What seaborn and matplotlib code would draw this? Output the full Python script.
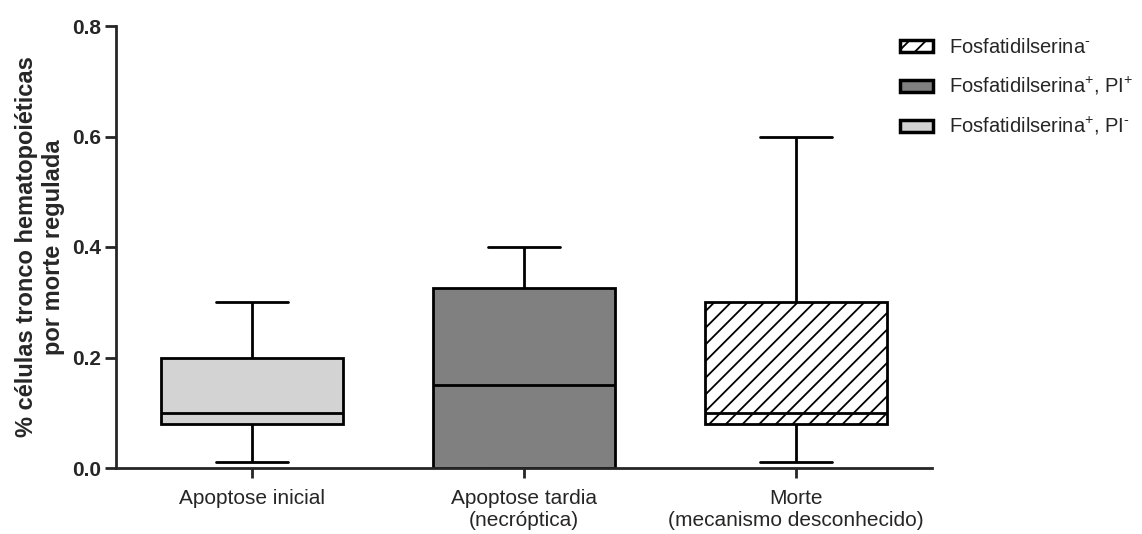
import numpy as np
import pandas as pd
import matplotlib
matplotlib.use("Agg")
import matplotlib.pyplot as plt
from matplotlib.patches import Patch
import seaborn as sns

# Five-number summaries (min, Q1, median, Q3, max) per death mechanism
categories = ["Apoptose inicial", "Apoptose tardia\n(necróptica)",
              "Morte\n(mecanismo desconhecido)"]
apoptose_inicial = [0.01, 0.08, 0.10, 0.20, 0.30]
apoptose_tardia = [0.00, 0.00, 0.15, 0.325, 0.40]
morte_desconhecida = [0.01, 0.08, 0.10, 0.30, 0.60]

legend_labels = [r"Fosfatidilserina$^{\text{-}}$",
                 r"Fosfatidilserina$^{\mathregular{+}}$, PI$^{\mathregular{+}}$",
                 r"Fosfatidilserina$^{\mathregular{+}}$, PI$^{\text{-}}$"]
yticks = [0.0, 0.2, 0.4, 0.6, 0.8]

light_gray = "#d3d3d3"
dark_gray = "#808080"

sns.set_style("ticks")
plt.rcParams["font.family"] = ["Liberation Sans", "DejaVu Sans"]
plt.rcParams["mathtext.fontset"] = "custom"
plt.rcParams["mathtext.rm"] = "Liberation Sans"
plt.rcParams["hatch.linewidth"] = 1.3
plt.rcParams["hatch.color"] = "black"

df = pd.DataFrame({
    "grupo": np.repeat(categories, 5),
    "valor": apoptose_inicial + apoptose_tardia + morte_desconhecida,
})

fig = plt.figure(figsize=(11.42, 5.34), dpi=100)
ax = fig.add_axes([116 / 1142, 66 / 534, (932 - 116) / 1142, (468 - 26) / 534])

palette = {categories[0]: light_gray, categories[1]: dark_gray,
           categories[2]: "white"}
lw = 2.0
sns.boxplot(data=df, x="grupo", y="valor", hue="grupo", order=categories,
            palette=palette, whis=(0, 100), width=0.667, legend=False,
            linecolor="black", linewidth=lw, capwidths=0.267, ax=ax,
            medianprops=dict(color="black", linewidth=lw),
            whiskerprops=dict(color="black", linewidth=lw),
            capprops=dict(color="black", linewidth=lw),
            boxprops=dict(edgecolor="black", linewidth=lw))

# Hatch the third box
box_patches = [p for p in ax.patches]
box_patches[2].set_hatch("//")
box_patches[2].set_edgecolor("black")

ax.set_xlim(-0.5, 2.5)
ax.set_ylim(0, 0.8)
ax.set_yticks(yticks)
ax.set_yticklabels([f"{t:.1f}" for t in yticks], fontsize=15, fontweight="bold")
ax.tick_params(axis="x", labelsize=15, length=7, width=2, pad=8)
ax.tick_params(axis="y", length=8, width=2, pad=3)
ax.set_xlabel("")
ax.set_ylabel("% células tronco hematopoiéticas\npor morte regulada",
              fontsize=17, fontweight="bold", labelpad=5)
for side in ["left", "bottom"]:
    ax.spines[side].set_linewidth(2)
sns.despine(ax=ax)

handles = [
    Patch(facecolor="white", edgecolor="black", hatch="//", linewidth=2.5),
    Patch(facecolor=dark_gray, edgecolor="black", linewidth=2.5),
    Patch(facecolor=light_gray, edgecolor="black", linewidth=2.5),
]
fig.legend(handles, legend_labels, loc="upper left",
           bbox_to_anchor=(900 / 1142, 1 - 38 / 534), frameon=False,
           borderpad=0, borderaxespad=0,
           fontsize=14.5, handlelength=1.65, handleheight=0.55,
           labelspacing=0.9, handletextpad=0.8)

fig.savefig("out.png", dpi=100)
